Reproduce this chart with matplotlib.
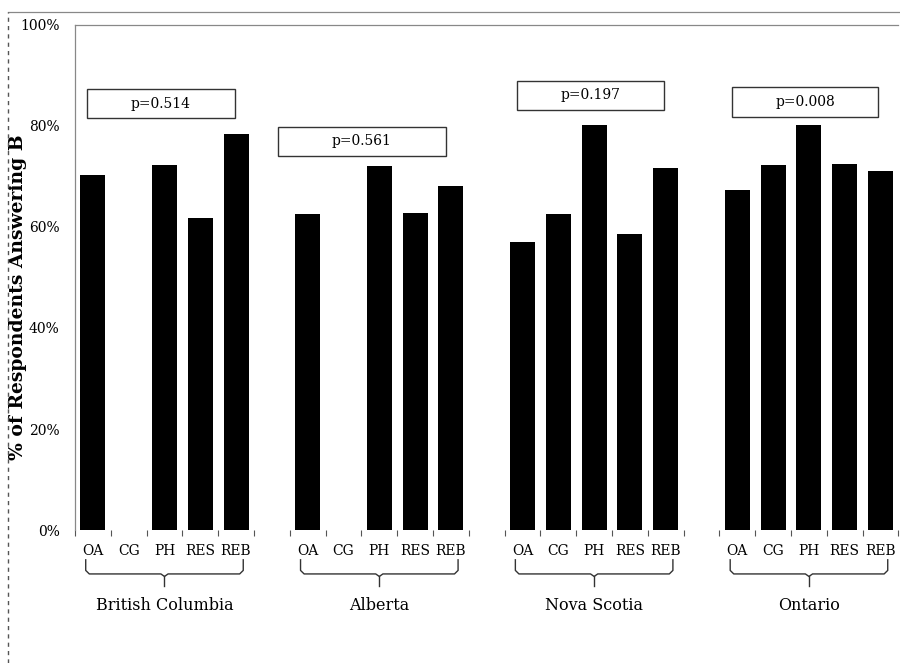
import matplotlib.pyplot as plt
from matplotlib.patches import Rectangle
from matplotlib.lines import Line2D
import numpy as np

# Data (% answering B)
provinces = ['British Columbia', 'Alberta', 'Nova Scotia', 'Ontario']
groups = ['OA', 'CG', 'PH', 'RES', 'REB']
bc_vals = [70.3, 0, 72.3, 61.8, 78.4]
ab_vals = [62.6, 0, 72.1, 62.8, 68.1]
ns_vals = [57.0, 62.6, 80.2, 58.6, 71.7]
on_vals = [67.3, 72.3, 80.2, 72.5, 71.1]
p_values = ['p=0.514', 'p=0.561', 'p=0.197', 'p=0.008']
y_ticks = [0, 20, 40, 60, 80, 100]

# box positions (data coords): x0, x1, y0, y1
p_boxes = [(-0.17, 3.96, 81.6, 87.3),
           (5.16, 9.87, 74.1, 79.8),
           (11.85, 15.95, 83.2, 88.9),
           (17.84, 21.94, 81.8, 87.7)]

all_vals = [bc_vals, ab_vals, ns_vals, on_vals]
serif = 'DejaVu Serif'
edge = '#555555'

fig = plt.figure(figsize=(9, 6.63), dpi=100)
ax = fig.add_axes([0.0833, 0.2006, 0.915, 0.7617])

xpos, labels = [], []
for gi, vals in enumerate(all_vals):
    start = gi * 6
    x = np.arange(start, start + len(vals))
    ax.bar(x, vals, width=0.7, color='black')
    xpos.extend(x)
    labels.extend(groups)

ax.set_xlim(-0.5, 22.5)
ax.set_ylim(0, 100)

ax.set_xticks(xpos)
ax.set_xticklabels(labels, fontsize=10, family=serif)
ax.set_xticks(np.arange(-0.5, 23, 1), minor=True)
ax.tick_params(axis='x', which='major', length=0, pad=10)
ax.tick_params(axis='x', which='minor', length=4, color=edge, width=0.8)

ax.set_yticks(y_ticks)
ax.set_yticklabels([f'{v}%' for v in y_ticks], fontsize=10, family=serif)
ax.tick_params(axis='y', length=0, pad=11)

for s in ['right', 'bottom']:
    ax.spines[s].set_visible(False)
for s in ['left', 'top']:
    ax.spines[s].set_color('#888888')
    ax.spines[s].set_linewidth(0.9)

ax.set_ylabel('% of Respondents Answering B', fontsize=13.5, fontweight='bold',
              family=serif)
ax.yaxis.set_label_coords(-0.058, 0.46)

# p-value boxes
for (x0, x1, y0, y1), txt in zip(p_boxes, p_values):
    ax.add_patch(Rectangle((x0, y0), x1 - x0, y1 - y0, facecolor='white',
                           edgecolor='#333333', linewidth=1, zorder=3))
    ax.text((x0 + x1) / 2, (y0 + y1) / 2, txt, ha='center', va='center',
            fontsize=10, family=serif, zorder=4)

# braces under each province group
trans = ax.get_xaxis_transform()
for gi, name in enumerate(provinces):
    a = gi * 6 - 0.2
    b = gi * 6 + 4 + 0.2
    c = (a + b) / 2
    ax.plot([a, a, a + 0.1, c - 0.1, c, c + 0.1, b - 0.1, b, b],
            [-0.059, -0.08, -0.087, -0.087, -0.092, -0.087, -0.087, -0.08, -0.059],
            transform=trans, color='#333333', linewidth=1, clip_on=False)
    ax.plot([c, c], [-0.092, -0.111], transform=trans, color='#333333',
            linewidth=1, clip_on=False)
    ax.text(c, -0.149, name, transform=trans, ha='center', va='center',
            fontsize=11.5, family=serif)

# outer frame lines
fig.add_artist(Line2D([0.009, 1.0], [0.982, 0.982], color='#888888', linewidth=0.9))
fig.add_artist(Line2D([0.009, 0.009], [0.0, 0.982], color='#555555', linewidth=1,
                      linestyle=(0, (3, 3))))

fig.savefig('out.png', dpi=100)
